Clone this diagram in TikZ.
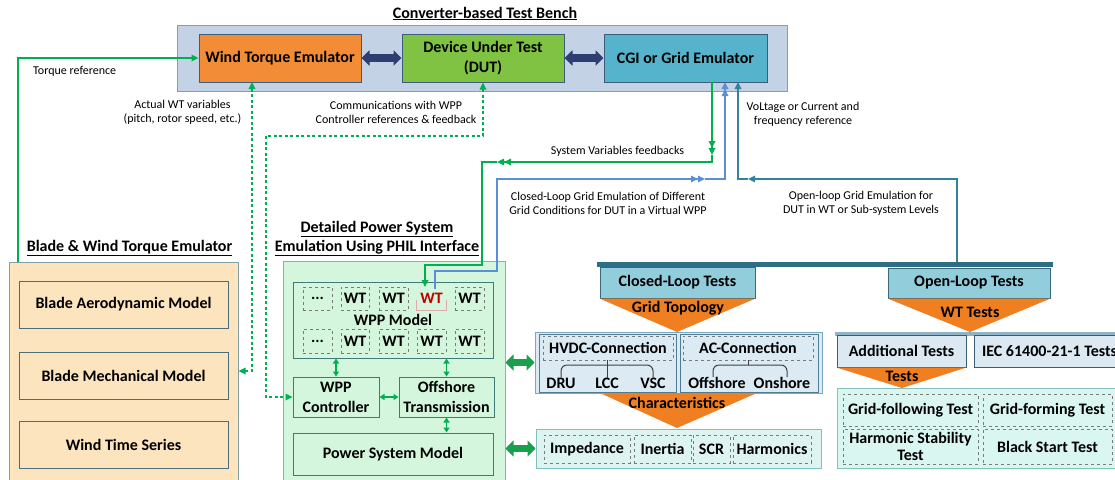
\documentclass[tikz,border=0pt]{standalone}
\usepackage{fontspec}
\setmainfont{Carlito}
\usetikzlibrary{arrows.meta,calc}
\definecolor{cBench}{HTML}{C3D2E4}
\definecolor{cBenchB}{HTML}{8C9AAC}
\definecolor{cOrange}{HTML}{F28C36}
\definecolor{cDUT}{HTML}{80C241}
\definecolor{cCGI}{HTML}{55B4CC}
\definecolor{cBoxB}{HTML}{3E5C7C}
\definecolor{cNavy}{HTML}{2E3E72}
\definecolor{cLG}{HTML}{00B050}
\definecolor{cBlue}{HTML}{5B8ED8}
\definecolor{cTeal}{HTML}{31849B}
\definecolor{cBlade}{HTML}{FCE4BF}
\definecolor{cBladeB}{HTML}{7F9FA0}
\definecolor{cBladeIn}{HTML}{4D6E78}
\definecolor{cPhil}{HTML}{D3F6DC}
\definecolor{cPhilB}{HTML}{7FB8A4}
\definecolor{cPhilIn}{HTML}{3F7A78}
\definecolor{cTest}{HTML}{92CDDC}
\definecolor{cTestB}{HTML}{3B6779}
\definecolor{cTri}{HTML}{F07F21}
\definecolor{cTopo}{HTML}{DBEAF3}
\definecolor{cTopoB}{HTML}{7BA7BE}
\definecolor{cTopoIn}{HTML}{4F7C93}
\definecolor{cChar}{HTML}{DDF4F1}
\definecolor{cCharB}{HTML}{82BFC3}
\definecolor{cBar}{HTML}{2E6E85}
\definecolor{cLBar}{HTML}{8FB4C8}
\definecolor{cAdd}{HTML}{DDE9F2}
\definecolor{cAddB}{HTML}{3D5B71}
\definecolor{cTst}{HTML}{DAF6F0}
\definecolor{cTstB}{HTML}{85C2BD}
\definecolor{cDash}{HTML}{7A7A7A}
\definecolor{cRed}{HTML}{C00000}
\definecolor{cRedB}{HTML}{E0A8A8}
\definecolor{cFatG}{HTML}{1A9F4C}
\newcommand\mkbox[7]{\node[#2,minimum width={(#5-#3)*1pt},minimum height={(#6-#4)*1pt}] (#1) at ({(#3+#5)/2},{(#4+#6)/2}) {#7};}
\begin{document}
\begin{tikzpicture}[x=1pt,y=-1pt,
  bfont/.style={font=\bfseries\fontsize{16}{20}\selectfont},
  box/.style={draw=cBoxB,line width=1pt,inner sep=0pt,align=center,bfont},
  benchbox/.style={draw=cBenchB,fill=cBench,line width=1pt,inner sep=0pt},
  bladebox/.style={draw=cBladeB,fill=cBlade,line width=1pt,inner sep=0pt},
  bladein/.style={draw=cBladeIn,fill=cBlade,line width=1pt,inner sep=0pt,align=center,bfont},
  philbox/.style={draw=cPhilB,fill=cPhil,line width=1pt,inner sep=0pt},
  philin/.style={draw=cPhilIn,fill=cPhil,line width=1pt,inner sep=0pt,align=center,bfont},
  wtbox/.style={draw=cDash,dashed,line width=0.8pt,inner sep=0pt,bfont},
  testbox/.style={draw=cTestB,fill=cTest,line width=1pt,inner sep=0pt,bfont},
  topobox/.style={draw=cTopoB,fill=cTopo,line width=1pt,inner sep=0pt},
  topoin/.style={draw=cTopoIn,fill=cTopo,line width=1pt,inner sep=0pt},
  dbox/.style={draw=cDash,dashed,line width=0.8pt,inner sep=0pt,align=center,bfont},
  charbox/.style={draw=cCharB,fill=cChar,line width=1pt,inner sep=0pt},
  barbox/.style={fill=cBar,inner sep=0pt},
  lbarbox/.style={fill=cLBar,inner sep=0pt},
  addbox/.style={draw=cAddB,fill=cAdd,line width=1pt,inner sep=0pt,bfont},
  tstbox/.style={draw=cTstB,fill=cTst,line width=1pt,inner sep=0pt},
  txtb/.style={inner sep=0pt,bfont},
  ttl/.style={inner sep=0pt,bfont},
  lbl/.style={inner sep=0pt,font=\fontsize{12}{14}\selectfont},
  stip/.style={-{Triangle[length=7pt,width=6.5pt]}},
  btip/.style={{Triangle[length=7pt,width=6.5pt]}-{Triangle[length=7pt,width=6.5pt]}},
  dtip/.style={-{Triangle[length=7pt,width=6.5pt]Triangle[length=7pt,width=6.5pt]}},
  smallb/.style={{Triangle[length=5pt,width=6pt]}-{Triangle[length=5pt,width=6pt]}},
  gline/.style={draw=cLG,line width=1.6pt},
  gdash/.style={draw=cLG,line width=1.6pt,dash pattern=on 3pt off 2.5pt},
  bline/.style={draw=cBlue,line width=1.6pt},
  tline/.style={draw=cTeal,line width=1.6pt},
  gthin/.style={draw=cLG,line width=1.3pt},
  fatnavy/.style={draw=cNavy,line width=7.5pt,{Triangle[length=8pt,width=15pt]}-{Triangle[length=8pt,width=15pt]}},
  fatg/.style={draw=cFatG,line width=7pt,{Triangle[length=8pt,width=16pt]}-{Triangle[length=8pt,width=16pt]}}
]
\useasboundingbox (0,0) rectangle (1115,479);
\clip (0,0) rectangle (1115,479);

% ---------- Converter-based test bench ----------
\mkbox{bench}{benchbox}{177}{25}{787}{91}{}
\node[ttl,anchor=base] (ttlbench) at (485,18) {\underline{Converter-based Test Bench}};
\mkbox{wte}{box,fill=cOrange}{199}{34}{361}{82}{Wind Torque Emulator}
\mkbox{dut}{box,fill=cDUT}{402}{34}{564}{82}{Device Under Test\\(DUT)}
\mkbox{cgi}{box,fill=cCGI}{604}{34}{767}{82}{CGI or Grid Emulator}
\draw[fatnavy] (wte.east) -- (dut.west);
\draw[fatnavy] (dut.east) -- (cgi.west);

% ---------- Blade & wind torque emulator ----------
\mkbox{blade}{bladebox}{9}{262}{238}{480}{}
\node[ttl,anchor=base] (ttlblade) at (129.5,251) {\underline{Blade \& Wind Torque Emulator}};
\mkbox{bam}{bladein}{19}{281}{228}{328}{Blade Aerodynamic Model}
\mkbox{bmm}{bladein}{19}{352}{228}{399}{Blade Mechanical Model}
\mkbox{wts}{bladein}{19}{421}{228}{468}{Wind Time Series}

% ---------- PHIL ----------
\mkbox{phil}{philbox}{283}{261}{505}{482}{}
\node[ttl,anchor=base] (ttlphil1) at (377,232) {\underline{Detailed Power System}};
\node[ttl,anchor=base] (ttlphil2) at (377,251) {\underline{Emulation Using PHIL Interface}};
\mkbox{wpp}{philin}{293}{282}{493}{358}{WPP Model}
\mkbox{w11}{wtbox}{303}{287}{332}{310}{...}
\mkbox{w12}{wtbox}{341}{287}{369}{310}{WT}
\mkbox{w13}{wtbox}{379}{287}{408}{310}{WT}
\mkbox{wtred}{txtb,text=cRed}{417}{287}{446}{310}{WT}
\draw[cRedB,line width=0.8pt] ([yshift=10pt]wtred.south west) -- (wtred.south west) -- (wtred.south east) -- ([yshift=10pt]wtred.south east);
\mkbox{w15}{wtbox}{455}{287}{484}{310}{WT}
\mkbox{w21}{wtbox}{303}{329}{332}{353}{...}
\mkbox{w22}{wtbox}{341}{329}{369}{353}{WT}
\mkbox{w23}{wtbox}{379}{329}{408}{353}{WT}
\mkbox{w24}{wtbox}{417}{329}{446}{353}{WT}
\mkbox{w25}{wtbox}{455}{329}{484}{353}{WT}
\mkbox{wppc}{philin}{293}{377}{379}{417}{WPP\\Controller}
\mkbox{off}{philin}{399}{377}{494}{417}{Offshore\\Transmission}
\mkbox{psm}{philin}{293}{433}{493}{475}{Power System Model}
\draw[gthin,smallb] (wpp.south -| wppc.north) -- (wppc.north);
\draw[gthin,smallb] (wpp.south -| off.north) -- (off.north);
\draw[gthin,smallb] (wppc.east) -- (off.west);
\draw[gthin,smallb] (off.south) -- (psm.north -| off.south);

% ---------- Closed-loop tests ----------
\mkbox{bar}{barbox}{597}{262}{1053}{266.5}{}
\mkbox{clt}{testbox}{600}{267}{755}{298}{Closed-Loop Tests}
\mkbox{topo}{topobox}{535}{332}{822}{393}{}
\mkbox{hvdcb}{topoin}{539}{334}{676}{392}{}
\mkbox{acb}{topoin}{680}{334}{818}{392}{}
\fill[cTri] (clt.south west) -- (clt.south east) -- (677,332) -- cycle;
\node[txtb] (gtopo) at (678,308) {Grid Topology};
\mkbox{hvdc}{dbox}{543}{336}{673}{360}{HVDC-Connection}
\mkbox{acc}{dbox}{683}{336}{813}{360}{AC-Connection}
\node[txtb] (dru) at (561,383) {DRU};
\node[txtb] (lcc) at (607,383) {LCC};
\node[txtb] (vsc) at (653,383) {VSC};
\node[txtb] (offs) at (717,383) {Offshore};
\node[txtb] (ons) at (782,383) {Onshore};
\coordinate (hb) at (607,365);
\coordinate (ab) at (748,365);
\draw[black!75,line width=1pt,rounded corners=6pt] (dru.north) |- (hb) -| (vsc.north);
\draw[black!75,line width=1pt] (hvdc.south -| lcc.north) -- (lcc.north);
\draw[black!75,line width=1pt,rounded corners=6pt] ([xshift=-4pt]offs.north) |- (ab) -| ([xshift=5pt]ons.north);
\draw[black!75,line width=1pt] (acc.south) -- (ab);
\fill[cTri] (600,393) -- (757,393) -- (677,428) -- cycle;
\node[txtb] (chrt) at (677,403) {Characteristics};
\mkbox{chr}{charbox}{536}{429}{821}{468}{}
\mkbox{imp}{dbox}{544}{435}{630}{463}{Impedance}
\mkbox{ine}{dbox}{634}{435}{691}{463}{Inertia}
\mkbox{scr}{dbox}{693}{435}{730}{463}{SCR}
\mkbox{har}{dbox}{733}{435}{811}{463}{Harmonics}
\draw[fatg] (phil.east |- topo.west) -- (topo.west);
\draw[fatg] (phil.east |- chr.west) -- (chr.west);

% ---------- Open-loop tests ----------
\mkbox{olt}{testbox}{888}{268}{1050}{298}{Open-Loop Tests}
\mkbox{lbar}{lbarbox}{835}{332}{1120}{335.5}{}
\fill[cTri] (olt.south west) -- (olt.south east) -- (970,332) -- cycle;
\node[txtb] (wtt) at (970,312) {WT Tests};
\mkbox{addt}{addbox}{837}{335}{966}{367}{Additional Tests}
\mkbox{iec}{addbox}{974}{335}{1125}{367}{IEC 61400-21-1 Tests}
\mkbox{tst}{tstbox}{837}{388}{1125}{468}{}
\fill[cTri] (addt.south west) -- (addt.south east) -- (902,388) -- cycle;
\node[txtb] (tsts) at (902,376) {Tests};
\mkbox{gfl}{dbox}{843}{394}{978}{426}{Grid-following Test}
\mkbox{gfm}{dbox}{983}{394}{1112}{426}{Grid-forming Test}
\node[dbox,minimum width=135pt,minimum height=35pt,font=\bfseries\fontsize{16}{17}\selectfont] (hst) at (910.5,446.5) {Harmonic Stability\\Test};
\mkbox{bst}{dbox}{983}{429}{1112}{464}{Black Start Test}

% ---------- connectors ----------
\coordinate (tq) at (18,262);
\draw[gline,stip] (tq) |- (wte.west);
\coordinate (a1) at (252,82);
\draw[gdash,btip] (a1) |- (blade.east);
\coordinate (b2) at (266,136);
\draw[gdash,btip] (dut.south) |- (b2) |- (wppc.west);

\coordinate (g1) at (712,82);
\coordinate (g2) at (712,155);
\coordinate (g3) at (497,162);
\coordinate (g4) at (482,265);
\coordinate (g5) at (425,287);
\draw[gline,dtip] (g1) -- (g2);
\draw[gline,dtip] (g2) |- (g3);
\draw[gline,stip] (g3) -| (g4) -| (g5);

\coordinate (u1) at (435,289);
\coordinate (u2) at (497,271);
\coordinate (u3) at (705,179);
\coordinate (u4) at (725,82);
\draw[bline,dtip] (u1) |- (u2) |- (u3);
\draw[bline,dtip] (u3) -| (u4);

\coordinate (t1) at (957,262);
\coordinate (t2) at (748,179);
\coordinate (t3) at (738,82);
\draw[tline,stip] (t1) |- (t2);
\draw[tline,stip] (t2) -| (t3);

% ---------- labels ----------
\node[lbl,anchor=west] (l1) at (33,71) {Torque reference};
\node[lbl,align=center] (l2) at (182.5,112) {Actual WT variables\\(pitch, rotor speed, etc.)};
\node[lbl,align=center] (l3) at (396,112) {Communications with WPP\\Controller references \& feedback};
\node[lbl,align=center] (l4) at (803,114.5) {VoLtage or Current and\\frequency reference};
\node[lbl] (l5) at (617.5,151) {System Variables feedbacks};
\node[lbl,align=center] (l6) at (608,203) {Closed-Loop Grid Emulation of Different\\Grid Conditions for DUT in a Virtual WPP};
\node[lbl,align=center] (l7) at (861,203) {Open-loop Grid Emulation for\\DUT in WT or Sub-system Levels};
\end{tikzpicture}
\end{document}
